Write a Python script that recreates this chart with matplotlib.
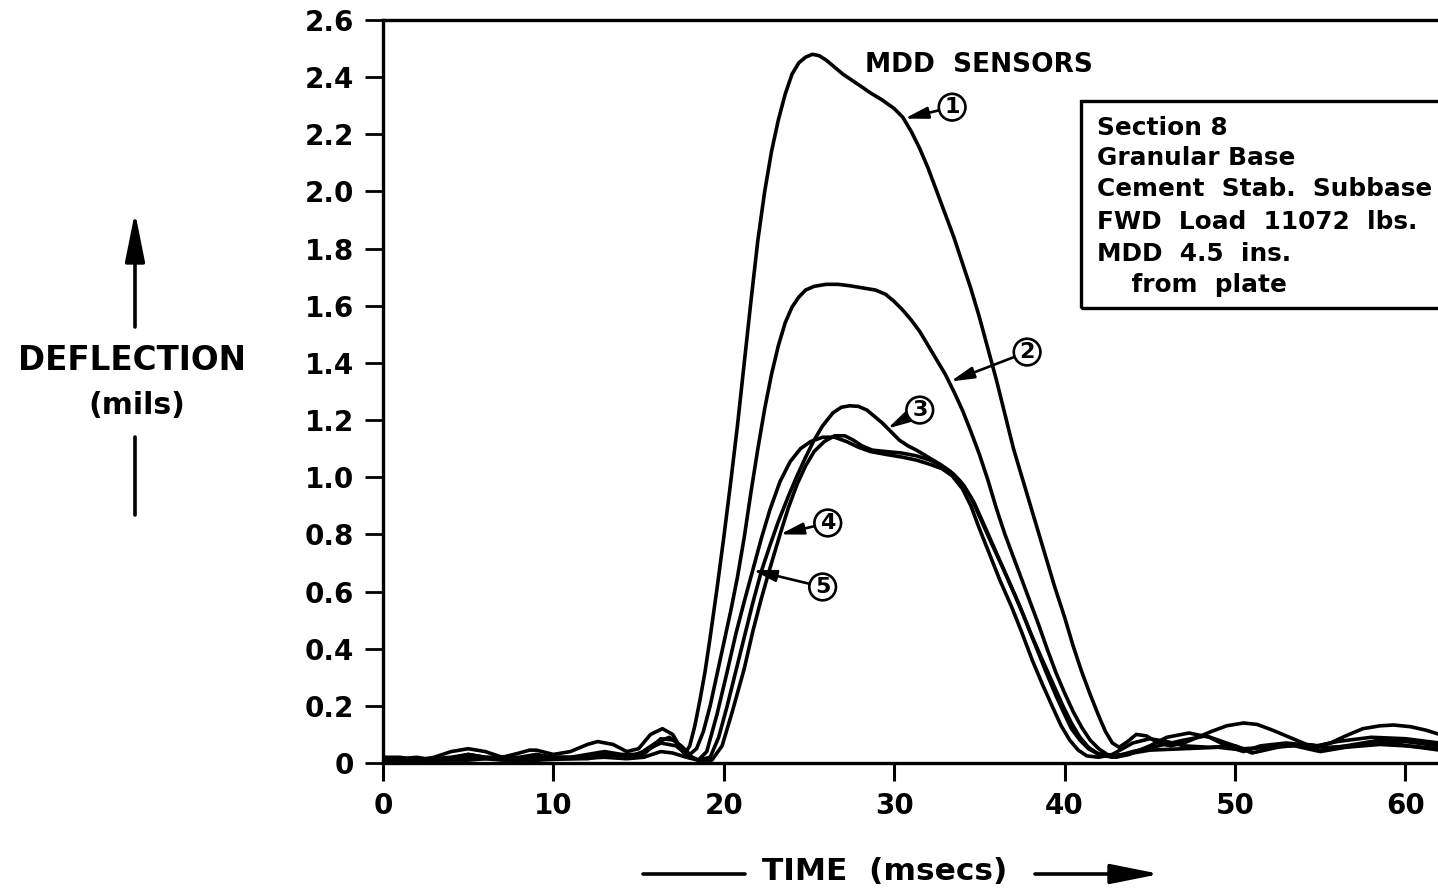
import matplotlib
matplotlib.use("Agg")
import matplotlib.pyplot as plt
from matplotlib.patches import Rectangle

# ---------------- data ----------------
t1 = [0, 1, 2, 3, 4, 5, 6, 7, 8, 8.6, 9, 10, 11, 12, 12.6, 13.5, 14.3, 15, 15.7, 16.4, 17.0, 17.7,
      18.0, 18.3, 18.6, 18.9, 19.2, 19.6, 20.0, 20.4, 20.8, 21.2, 21.6, 22.0, 22.4, 22.8, 23.2, 23.6,
      24.0, 24.4, 24.8, 25.2, 25.6, 26.0, 26.5, 27.0, 27.5, 28.0, 28.6, 29.3, 30.0, 30.5, 31.0, 31.5,
      32.0, 32.5, 33.0, 33.5, 34.0, 34.5, 35.0, 35.5, 36.0, 36.5, 37.0, 37.6, 38.2, 38.8, 39.4, 40.0,
      40.5, 41.0, 41.5, 42.0, 42.4, 42.8, 43.2, 43.7, 44.2, 44.8, 45.5, 46.2, 47.0, 47.8, 48.6, 49.5,
      50.5, 51.3, 52.2, 53.2, 54.2, 54.9, 55.6, 56.5, 57.5, 58.5, 59.3, 60.3, 61.2, 62]
v1 = [0.02, 0.02, 0.01, 0.02, 0.04, 0.05, 0.04, 0.02, 0.035, 0.045, 0.045, 0.03, 0.04, 0.065, 0.075,
      0.065, 0.04, 0.05, 0.10, 0.12, 0.10, 0.03, 0.06, 0.13, 0.22, 0.32, 0.44, 0.61, 0.79, 0.98, 1.18,
      1.40, 1.62, 1.83, 2.00, 2.14, 2.25, 2.34, 2.41, 2.45, 2.47, 2.48, 2.475, 2.46, 2.435, 2.41, 2.39,
      2.37, 2.345, 2.32, 2.29, 2.26, 2.21, 2.15, 2.08, 2.00, 1.92, 1.84, 1.75, 1.66, 1.56, 1.45, 1.34,
      1.22, 1.10, 0.98, 0.86, 0.74, 0.62, 0.51, 0.41, 0.32, 0.24, 0.165, 0.11, 0.07, 0.055, 0.075,
      0.10, 0.095, 0.07, 0.06, 0.07, 0.09, 0.11, 0.13, 0.14, 0.135, 0.115, 0.09, 0.065, 0.06, 0.07,
      0.095, 0.12, 0.13, 0.133, 0.127, 0.115, 0.10]

t2 = [0, 2, 4, 5, 6, 8, 9, 10, 11, 12, 13, 14, 15, 16, 16.8, 17.5, 18.0, 18.4, 18.8, 19.2, 19.6,
      20.0, 20.4, 20.8, 21.2, 21.6, 22.0, 22.4, 22.8, 23.2, 23.6, 24.0, 24.4, 24.8, 25.3, 26.0, 26.7,
      27.4, 28.2, 28.9, 29.5, 30.0, 30.5, 31.0, 31.5, 32.0, 32.5, 33.0, 33.5, 34.0, 34.5, 35.0, 35.5,
      36.0, 36.5, 37.0, 37.5, 38.0, 38.5, 39.0, 39.5, 40.0, 40.5, 41.0, 41.5, 42.0, 42.5, 43.0, 43.8,
      45, 46, 47.3, 48.5, 49.5, 50.5, 51.5, 53, 54.8, 56, 58, 60, 62]
v2 = [0.01, 0.01, 0.02, 0.03, 0.02, 0.02, 0.03, 0.02, 0.02, 0.03, 0.04, 0.03, 0.03, 0.07, 0.09, 0.06,
      0.03, 0.05, 0.11, 0.20, 0.31, 0.42, 0.53, 0.65, 0.79, 0.95, 1.10, 1.24, 1.36, 1.46, 1.54, 1.595,
      1.63, 1.655, 1.668, 1.675, 1.675, 1.67, 1.662, 1.655, 1.64, 1.615, 1.585, 1.55, 1.51, 1.46, 1.41,
      1.36, 1.30, 1.235, 1.16, 1.08, 0.99, 0.89, 0.80, 0.72, 0.64, 0.56, 0.48, 0.395, 0.315, 0.245,
      0.18, 0.125, 0.08, 0.05, 0.03, 0.02, 0.03, 0.06, 0.09, 0.105, 0.09, 0.06, 0.04, 0.06, 0.07,
      0.06, 0.075, 0.09, 0.085, 0.07]

t3 = [0, 2, 3, 5, 7, 9, 10, 12, 13, 14.3, 15.3, 16.3, 17.2, 17.8, 18.5, 19.2, 19.7, 20.2, 20.7, 21.2,
      21.7, 22.2, 22.7, 23.2, 23.8, 24.3, 24.8, 25.3, 25.8, 26.4, 26.9, 27.4, 27.9, 28.4, 28.9, 29.3,
      29.8, 30.3, 30.8, 31.3, 32.0, 32.7, 33.3, 33.9, 34.5, 35.1, 35.7, 36.4, 37.1, 37.7, 38.3, 38.9,
      39.5, 40.0, 40.4, 40.9, 41.4, 42.0, 42.8, 44, 45.5, 47, 48.3, 49.5, 50.5, 52, 53.5, 55, 56.5,
      58.5, 60, 62]
v3 = [0.01, 0.02, 0.01, 0.01, 0.02, 0.01, 0.02, 0.02, 0.03, 0.02, 0.04, 0.07, 0.06, 0.03, 0.01, 0.02,
      0.09, 0.20, 0.32, 0.44, 0.56, 0.67, 0.76, 0.845, 0.935, 1.005, 1.07, 1.13, 1.18, 1.225, 1.245, 1.25,
      1.248, 1.235, 1.21, 1.19, 1.16, 1.13, 1.11, 1.095, 1.07, 1.045, 1.02, 0.985, 0.93, 0.85, 0.77,
      0.68, 0.585, 0.50, 0.41, 0.32, 0.235, 0.17, 0.12, 0.08, 0.05, 0.03, 0.02, 0.04, 0.06, 0.08, 0.095,
      0.07, 0.05, 0.055, 0.065, 0.045, 0.06, 0.08, 0.075, 0.06]

t4 = [0, 1, 3, 5, 7, 9, 11, 13, 14.3, 15.3, 16.3, 17, 17.8, 18.5, 19.3, 19.9, 20.5, 21.2, 21.7, 22.2,
      22.7, 23.3, 23.8, 24.3, 24.8, 25.3, 25.9, 26.5, 27.1, 27.6, 28.1, 28.7, 29.5, 30.4, 31.3, 32.1,
      32.8, 33.5, 34.1, 34.7, 35.3, 36.0, 36.7, 37.4, 38.0, 38.7, 39.3, 39.9, 40.4, 40.9, 41.4, 41.9,
      42.5, 43.5, 45, 47, 49, 50.5, 52, 53.5, 55, 56.5, 58.5, 60, 62]
v4 = [0.02, 0.01, 0.01, 0.02, 0.01, 0.01, 0.015, 0.02, 0.015, 0.02, 0.04, 0.035, 0.02, 0.01, 0.01,
      0.06, 0.18, 0.33, 0.46, 0.575, 0.68, 0.80, 0.895, 0.975, 1.04, 1.09, 1.125, 1.145, 1.145, 1.13,
      1.11, 1.095, 1.09, 1.085, 1.075, 1.06, 1.04, 1.01, 0.97, 0.91, 0.83, 0.735, 0.64, 0.545, 0.455,
      0.36, 0.28, 0.20, 0.14, 0.09, 0.055, 0.035, 0.025, 0.03, 0.045, 0.05, 0.055, 0.045, 0.06, 0.06,
      0.04, 0.055, 0.065, 0.06, 0.05]

t5 = [0, 2, 4, 5, 6, 8, 9, 10.5, 12, 13, 14.3, 15.3, 16.3, 17.1, 17.8, 18.5, 19.0, 19.6, 20.2, 20.7,
      21.2, 21.7, 22.2, 22.7, 23.3, 23.9, 24.5, 25.1, 25.8, 26.5, 27.2, 27.9, 28.6, 29.5, 30.5, 31.3,
      32.1, 32.8, 33.4, 34.0, 34.5, 35.0, 35.6, 36.2, 36.9, 37.5, 38.1, 38.7, 39.3, 39.8, 40.3, 40.8,
      41.3, 42, 42.8, 44, 45, 46, 47, 48.5, 50, 51, 52.5, 54, 55.5, 57, 59, 62]
v5 = [0.015, 0.01, 0.015, 0.03, 0.02, 0.01, 0.02, 0.015, 0.015, 0.025, 0.02, 0.03, 0.085, 0.08, 0.03,
      0.01, 0.04, 0.17, 0.32, 0.45, 0.565, 0.675, 0.785, 0.885, 0.985, 1.055, 1.10, 1.125, 1.14, 1.14,
      1.125, 1.105, 1.09, 1.08, 1.07, 1.06, 1.045, 1.03, 1.005, 0.96, 0.90, 0.82, 0.73, 0.64, 0.545,
      0.455, 0.36, 0.275, 0.195, 0.13, 0.08, 0.045, 0.025, 0.02, 0.03, 0.07, 0.085, 0.075, 0.06, 0.055,
      0.06, 0.035, 0.055, 0.065, 0.055, 0.06, 0.07, 0.045]

series_t = [t1, t2, t3, t4, t5]
series_v = [v1, v2, v3, v4, v5]
sensor_labels = ["1", "2", "3", "4", "5"]
# (label position, arrow tip) in data coordinates
label_pos = [(33.4, 2.295), (37.8, 1.438), (31.5, 1.235), (26.1, 0.84), (25.8, 0.616)]
label_tip = [(30.6, 2.255), (33.3, 1.335), (29.6, 1.17), (23.3, 0.80), (21.7, 0.675)]

x_ticks = [0, 10, 20, 30, 40, 50, 60]
y_ticks = [0, 0.2, 0.4, 0.6, 0.8, 1.0, 1.2, 1.4, 1.6, 1.8, 2.0, 2.2, 2.4, 2.6]
y_ticklabels = ["0", "0.2", "0.4", "0.6", "0.8", "1.0", "1.2", "1.4", "1.6", "1.8", "2.0", "2.2",
                "2.4", "2.6"]

info_lines = ["Section 8", "Granular Base", "Cement  Stab.  Subbase", "FWD  Load  11072  lbs.",
              "MDD  4.5  ins.", "    from  plate"]

# ---------------- figure ----------------
W, H = 1438, 890
plt.rcParams['font.family'] = ['DejaVu Sans']
plt.rcParams['font.weight'] = 'bold'
fig = plt.figure(figsize=(W / 100, H / 100), dpi=100)
ax = fig.add_axes([383 / W, (H - 763) / H, (W - 383) / W, (763 - 20) / H])

for tt, vv in zip(series_t, series_v):
    ax.plot(tt, vv, color='black', lw=2.6, solid_capstyle='round', solid_joinstyle='round')

ax.set_xlim(0, (W - 383) / 17.04)
ax.set_ylim(0, 2.6)
ax.set_xticks(x_ticks)
ax.set_xticklabels([str(v) for v in x_ticks], fontsize=20, fontweight='bold')
ax.set_yticks(y_ticks)
ax.set_yticklabels(y_ticklabels, fontsize=20, fontweight='bold')
ax.tick_params(axis='x', direction='out', length=13, width=2.2, pad=8)
ax.tick_params(axis='y', direction='out', length=13, width=2.0, pad=8)
for s in ['left', 'top', 'bottom']:
    ax.spines[s].set_linewidth(2.4)
ax.spines['right'].set_visible(False)

# sensor labels with circled numbers
for lab, (lx, ly), (tx, ty) in zip(sensor_labels, label_pos, label_tip):
    ax.annotate(lab, xy=(tx, ty), xytext=(lx, ly), ha='center', va='center',
                fontsize=16, fontweight='bold',
                bbox=dict(boxstyle='circle,pad=0.15', fc='white', ec='black', lw=1.9),
                arrowprops=dict(arrowstyle='-|>,head_length=1.0,head_width=0.25', lw=1.9,
                                color='black', mutation_scale=14, shrinkA=0, shrinkB=0))

ax.text(865, H - 65, "MDD  SENSORS", transform=None, fontsize=19, fontweight='bold',
        ha='left', va='center')

# info box (cut at the right edge)
box = Rectangle((1081, H - 308), 500, 207, transform=None, fill=False, ec='black', lw=2.4,
                clip_on=False)
fig.patches.append(box)
line_y = [128, 158, 189, 222, 254, 285]
for txt, yy in zip(info_lines, line_y):
    fig.text(1097 / W, 1 - yy / H, txt, fontsize=17.8, fontweight='bold', ha='left', va='center')

# axis titles with arrows
fig.text(132 / W, 1 - 360 / H, "DEFLECTION", fontsize=23.5, fontweight='bold', ha='center',
         va='center')
fig.text(137 / W, 1 - 405 / H, "(mils)", fontsize=21.5, fontweight='bold', ha='center', va='center')
ax.annotate('', xy=(135, H - 212), xytext=(135, H - 327), xycoords='figure pixels',
            textcoords='figure pixels',
            arrowprops=dict(arrowstyle='-|>,head_length=1.5,head_width=0.3', lw=2.6,
                            color='black', mutation_scale=20, shrinkA=0, shrinkB=0))
ax.annotate('', xy=(135, H - 437), xytext=(135, H - 515), xycoords='figure pixels',
            textcoords='figure pixels',
            arrowprops=dict(arrowstyle='-', lw=2.6, color='black', shrinkA=0, shrinkB=0))

fig.text(885 / W, 1 - 872 / H, "TIME  (msecs)", fontsize=22.5, fontweight='bold', ha='center',
         va='center')
ax.annotate('', xy=(745, H - 874), xytext=(643, H - 874), xycoords='figure pixels',
            textcoords='figure pixels',
            arrowprops=dict(arrowstyle='-', lw=2.6, color='black', shrinkA=0, shrinkB=0))
ax.annotate('', xy=(1160, H - 874), xytext=(1035, H - 874), xycoords='figure pixels',
            textcoords='figure pixels',
            arrowprops=dict(arrowstyle='-|>,head_length=1.5,head_width=0.3', lw=2.6,
                            color='black', mutation_scale=20, shrinkA=0, shrinkB=0))

fig.savefig("out.png", dpi=100)
